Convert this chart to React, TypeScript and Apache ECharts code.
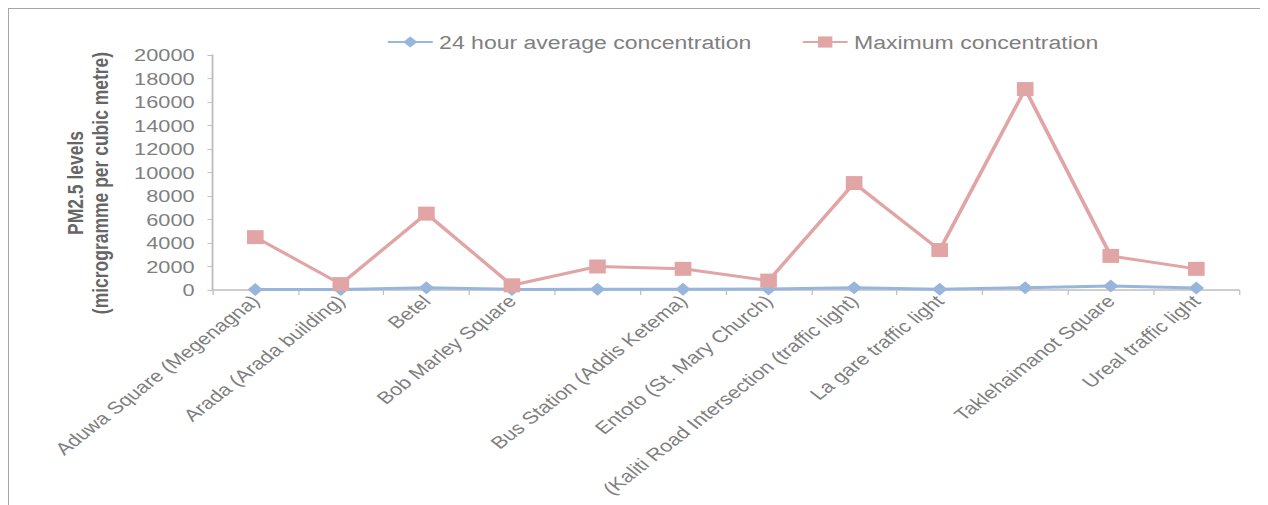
import React, { useEffect, useRef } from "react";
import * as echarts from "echarts";

const categories = [
  "Aduwa Square (Megenagna)",
  "Arada (Arada building)",
  "Betel",
  "Bob Marley Square",
  "",
  "Bus Station (Addis Ketema)",
  "Entoto (St. Mary Church)",
  "(Kaliti Road Intersection (traffic light)",
  "La gare traffic light",
  "",
  "Taklehaimanot Square",
  "Ureal traffic light",
];

const avgValues = [50, 50, 200, 50, 60, 60, 80, 200, 60, 200, 350, 180];
const maxValues = [4500, 500, 6500, 400, 2000, 1800, 800, 9100, 3400, 17100, 2900, 1800];

const yTicks = { min: 0, max: 20000, interval: 2000 };

const seriesNames = ["24 hour average concentration", "Maximum concentration"];
const yTitle = "PM2.5 levels\n(microgramme per cubic metre)";

const BLUE = "#98b6db";
const PINK = "#e2a5a5";
const AXIS = "#bfbfbf";
const LABEL = "#7f7f7f";
const FONT = "'Liberation Sans', Arial, sans-serif";
const K = 1.28; // horizontal stretch of the reference picture

export default function App() {
  const ref = useRef<HTMLDivElement>(null);

  useEffect(() => {
    if (!ref.current) return;
    const chart = echarts.init(ref.current, null, { renderer: "svg" });
    chart.setOption({
      animation: false,
      textStyle: { fontFamily: FONT },
      grid: { left: 159, right: 23, top: 46, bottom: 215, containLabel: false },
      legend: {
        left: 290,
        top: 19,
        itemWidth: 35,
        itemHeight: 14,
        itemGap: 39,
        textStyle: { color: LABEL, fontSize: 18, fontFamily: FONT },
        data: seriesNames,
      },
      graphic: [
        {
          type: "text",
          x: 61.5,
          y: 174,
          rotation: Math.PI / 2,
          style: {
            text: yTitle,
            align: "center",
            verticalAlign: "middle",
            fill: "#666666",
            fontSize: 17.5,
            fontWeight: "bold",
            fontFamily: FONT,
            lineHeight: 20,
          },
        },
      ],
      xAxis: {
        type: "category",
        data: categories,
        boundaryGap: true,
        axisLine: { lineStyle: { color: AXIS, width: 1.5 } },
        axisTick: { show: true, length: 5, alignWithLabel: false, lineStyle: { color: AXIS } },
        axisLabel: {
          interval: 0,
          rotate: 45,
          margin: 8,
          color: LABEL,
          fontSize: 17,
          fontFamily: FONT,
        },
        splitLine: { show: false },
      },
      yAxis: {
        type: "value",
        min: yTicks.min,
        max: yTicks.max,
        interval: yTicks.interval,
        axisLine: { show: true, lineStyle: { color: AXIS, width: 1.5 } },
        axisTick: { show: true, length: 4, lineStyle: { color: AXIS } },
        axisLabel: {
          margin: 14,
          color: LABEL,
          fontSize: 17,
          fontFamily: FONT,
          formatter: (v: number) => String(v),
        },
        splitLine: { show: false },
      },
      series: [
        {
          name: seriesNames[0],
          type: "line",
          data: avgValues,
          symbol: "diamond",
          symbolSize: [12, 13],
          lineStyle: { color: BLUE, width: 3 },
          itemStyle: { color: BLUE },
        },
        {
          name: seriesNames[1],
          type: "line",
          data: maxValues,
          symbol: "rect",
          symbolSize: [13, 14],
          lineStyle: { color: PINK, width: 3 },
          itemStyle: { color: PINK },
        },
      ],
    });
    return () => chart.dispose();
  }, []);

  return (
    <div
      style={{
        width: 1260,
        height: 497,
        boxSizing: "border-box",
        borderTop: "1px solid #a6a6a6",
        borderLeft: "1px solid #a6a6a6",
        overflow: "hidden",
        position: "relative",
        background: "#fff",
      }}
    >
      <div
        ref={ref}
        style={{
          width: 984,
          height: 496,
          transform: `scaleX(${K})`,
          transformOrigin: "0 0",
        }}
      />
    </div>
  );
}
